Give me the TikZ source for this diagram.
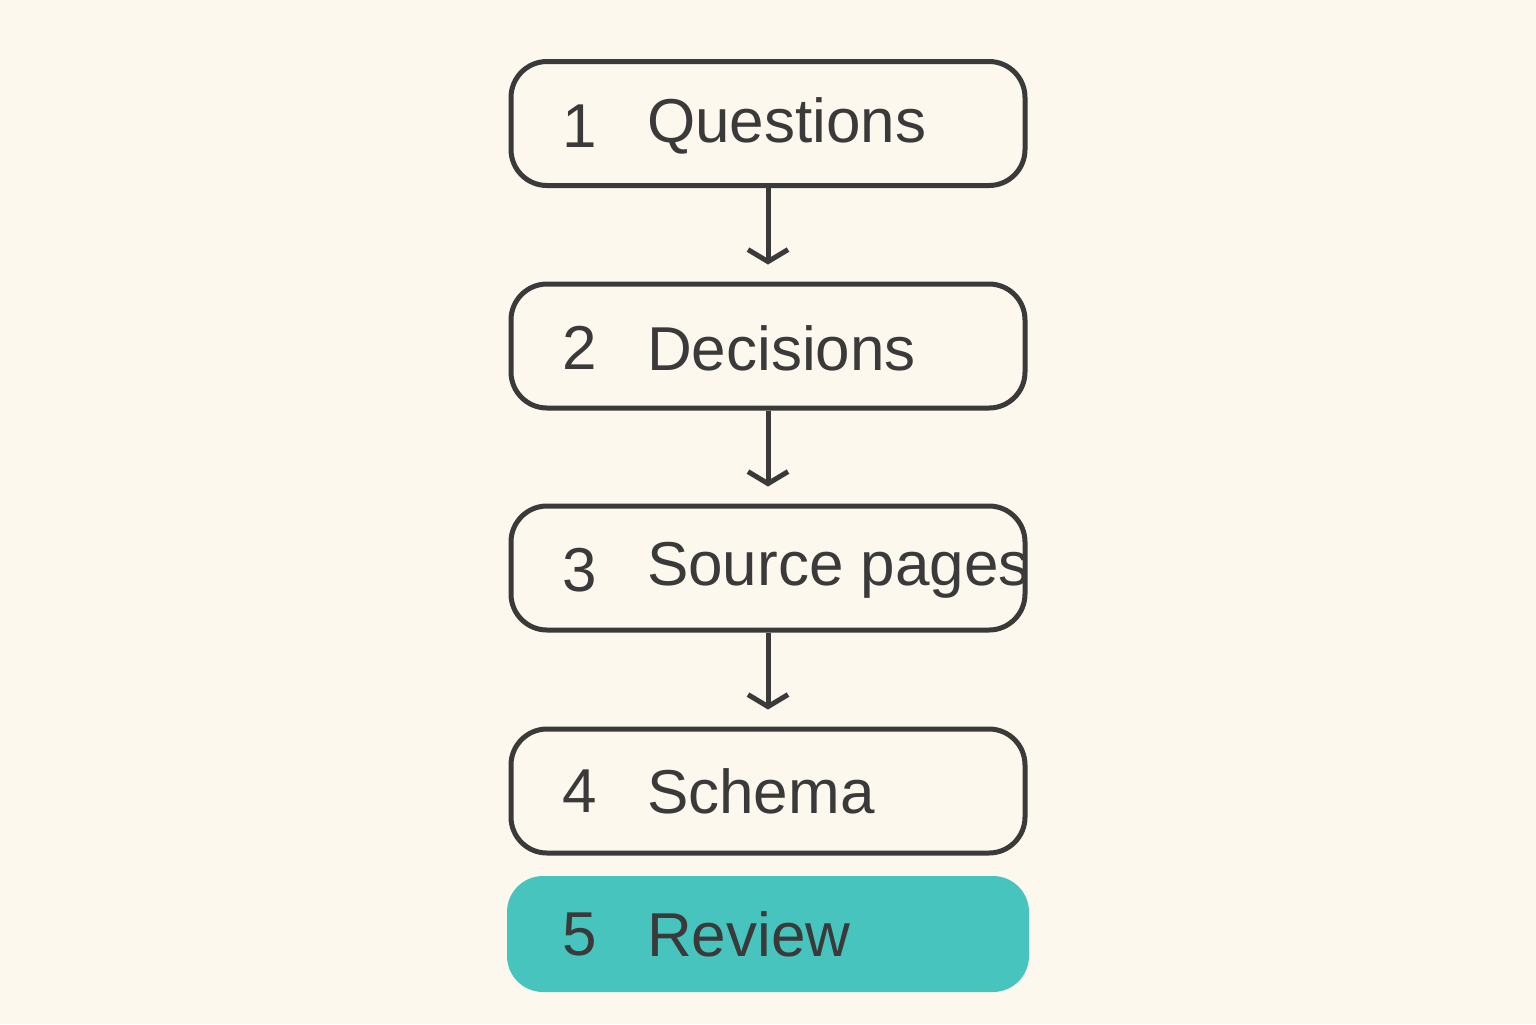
\documentclass[tikz,border=0pt]{standalone}
\usepackage{fontspec}
\setmainfont{Liberation Sans}
\usetikzlibrary{arrows.meta}
\newlength{\du}
\setlength{\du}{0.5pt}
\definecolor{paperbg}{RGB}{253,248,238}
\definecolor{inkline}{RGB}{58,58,58}
\definecolor{reviewfill}{RGB}{72,196,190}
\tikzset{
  stepbox/.style={rounded corners=36\du, minimum width=514\du, minimum height=124\du, inner sep=0pt, line width=5\du, draw=inkline, fill=paperbg},
  numtext/.style={anchor=center, text=inkline, font=\fontsize{31}{36}\selectfont},
  steptext/.style={anchor=west, text=inkline, font=\fontsize{31}{36}\selectfont},
  flowarrow/.style={draw=inkline, line width=5\du, -{Straight Barb[length=6pt, width=20pt, line width=2.5pt]}, shorten >=8.5pt}
}

\begin{document}
\begin{tikzpicture}[yscale=-1, x=\du, y=\du]
\fill[paperbg] (0,0) rectangle (1536,1024);
\useasboundingbox (0,0) rectangle (1536,1024);
% boxes
\node[stepbox] (questions) at (768,123.5) {};
\node[stepbox] (decisions) at (768,346) {};
\node[stepbox] (sources) at (768,568) {};
\node[stepbox] (schema) at (768,791) {};
\node[stepbox, draw=none, fill=reviewfill, minimum width=522\du, minimum height=116\du] (review) at (768,934) {};
% texts
\node[numtext] (n1) at (580,126) {1};
\node[steptext] (t1) at (640,126) {Questions};
\node[numtext] (n2) at (580,348) {2};
\node[steptext] (t2) at (640,348) {Decisions};
\node[numtext] (n3) at (580,570) {3};
\node[steptext] (t3) at (640,570) {Source pages};
\node[numtext] (n4) at (580,791) {4};
\node[steptext] (t4) at (640,791) {Schema};
\node[numtext] (n5) at (580,934) {5};
\node[steptext] (t5) at (640,934) {Review};
% arrows
\draw[flowarrow] (questions.south) -- (decisions.north);
\draw[flowarrow] (decisions.south) -- (sources.north);
\draw[flowarrow] (sources.south) -- (schema.north);
\end{tikzpicture}
\end{document}
